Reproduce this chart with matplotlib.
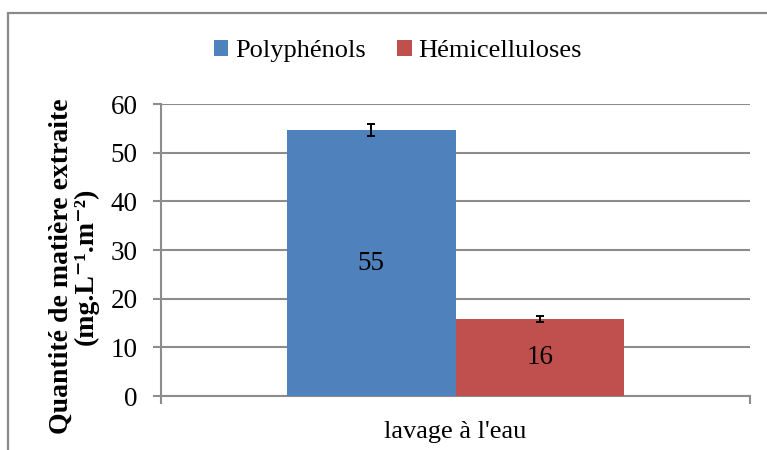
import matplotlib
matplotlib.use("Agg")
import matplotlib.pyplot as plt
from matplotlib.patches import Rectangle

# ── data ─────────────────────────────────────────────────────────────────────
CATEGORY = "lavage à l'eau"
SERIES = ["Polyphénols", "Hémicelluloses"]
VALUES = [54.6, 15.8]
ERRORS = [1.2, 0.6]
COLOURS = ["#4F81BD", "#C0504D"]
YTICKS = [0, 10, 20, 30, 40, 50, 60]

plt.rcParams["font.family"] = ["Liberation Serif", "DejaVu Serif"]

GRID = "#8c8c8c"

fig = plt.figure(figsize=(7.67, 4.5), dpi=100)
ax = fig.add_axes([161 / 767, 1 - 396 / 450, 589 / 767, 292 / 450])

# outer chart frame (only the top and left edges fall inside the canvas)
fig.patches.append(Rectangle((8 / 767, -0.2), 1.2, 1 - 13 / 450 + 0.2,
                             transform=fig.transFigure, fill=False,
                             edgecolor="#8a8a8a", lw=1.6, zorder=0))

bar_w = 0.2863
offsets = [-bar_w / 2, bar_w / 2]
for name, val, err, col, off in zip(SERIES, VALUES, ERRORS, COLOURS, offsets):
    ax.bar(off, val, width=bar_w, color=col, label=name, zorder=3)
    ax.errorbar(off, val, yerr=err, fmt="none", ecolor="black",
                elinewidth=1.4, capsize=3.2, capthick=1.4, zorder=4)
    ax.text(off, val / 2, f"{val:.0f}", ha="center", va="center",
            fontsize=19.5, zorder=5)

ax.set_xlim(-0.5, 0.5)
ax.set_ylim(0, 60)
ax.set_yticks(YTICKS)
ax.set_yticklabels([str(t) for t in YTICKS], fontsize=19.5)
ax.yaxis.grid(True, color=GRID, lw=1.5, zorder=0)
ax.set_axisbelow(True)

# category boundary ticks + centered category label
ax.set_xticks([-0.5, 0.5])
ax.set_xticklabels(["", ""])
ax.set_xticks([0], minor=True)
ax.set_xticklabels([CATEGORY], minor=True, fontsize=19)
ax.tick_params(axis="x", which="major", length=6, width=1.5, color=GRID)
ax.tick_params(axis="x", which="minor", length=0, pad=18)
ax.tick_params(axis="y", length=6, width=1.5, color=GRID, pad=11)

for side in ("top", "right"):
    ax.spines[side].set_visible(False)
for side in ("left", "bottom"):
    ax.spines[side].set_color(GRID)
    ax.spines[side].set_linewidth(1.5)

fig.text(74 / 767, 1 - 266 / 450,
         "Quantité de matière extraite\n(mg.L\u207b\u00b9.m\u207b\u00b2)",
         rotation=90, ha="center", va="center", fontsize=20,
         fontweight="bold", linespacing=1.0)

fig.legend(loc="center", bbox_to_anchor=(398 / 767, 1 - 51 / 450), ncol=2,
           frameon=False, fontsize=19, handlelength=0.55, handleheight=0.55,
           handletextpad=0.25, columnspacing=1.2, borderpad=0)

fig.savefig("out.png", dpi=100)
